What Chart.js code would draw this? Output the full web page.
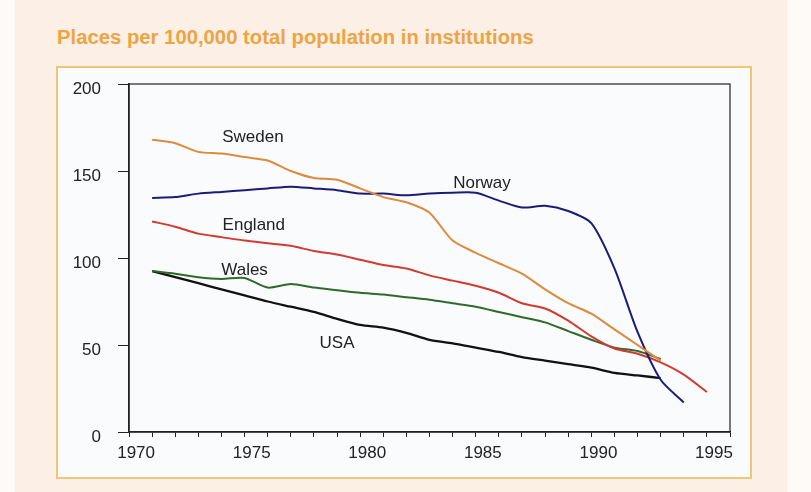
<!DOCTYPE html>
<html>
<head>
<meta charset="utf-8">
<script src="https://cdn.jsdelivr.net/npm/chart.js@4"></script>
<style>
  html, body { margin: 0; padding: 0; }
  body { width: 811px; height: 492px; position: relative; overflow: hidden; background: #fdfaf8; font-family: "Liberation Sans", Arial, sans-serif; }
  #peach { position: absolute; left: 15px; top: 0; width: 772px; height: 492px; background: #fcefe5; }
  #frame { position: absolute; left: 56px; top: 66px; width: 692px; height: 409px; border: 2px solid #f1c476; background: #fafbfc; }
  #title { position: absolute; left: 57px; top: 26px; font-size: 20.3px; font-weight: bold; color: #eba544; white-space: nowrap; }
  #wrap { position: absolute; left: 0; top: 0; width: 811px; height: 492px; }
  .lbl { position: absolute; font-size: 17px; color: #222; white-space: nowrap; transform: translate(-50%, -50%); }
</style>
</head>
<body>
<div id="peach"></div>
<div id="frame"></div>
<div id="title">Places per 100,000 total population in institutions</div>
<div id="wrap"><canvas id="c" width="811" height="492"></canvas></div>
<script>
const years = [1970,1971,1972,1973,1974,1975,1976,1977,1978,1979,1980,1981,1982,1983,1984,1985,1986,1987,1988,1989,1990,1991,1992,1993,1994];
const sweden  = [168,166,161,160,158,156,150,146,145,140,135,132,126,110,103,97,91,82,74,68,59,50,41];
const norway  = [134.5,135,137,138,139,140,141,140,139,137,137,136,137,137.5,137.5,133,129,130,127,120,94,57.5,30,17];
const england = [121,118,114,112,110,108.5,107,104,102,99,96,94,90,87,84,80,74,71,64,55,48,45,40,33,23];
const wales   = [92.5,91,89,88,88.5,83,85,83,81.5,80,79,77.5,76,74,72,69,66,63,58,53,48.5,46.5,42];
const usa     = [92.5,89,85.5,82,78.5,75,72,69,65,61.5,60,57,53,51,48.5,46,43,41,39,37,34,32.5,31];
const yTicks = [0,50,100,150,200];
const xLabels = [1970,1975,1980,1985,1990,1995];
const seriesLabels = [
  {text:'Sweden', x:1974.36, y:169.5},
  {text:'Norway', x:1984.27, y:143},
  {text:'England', x:1974.4, y:119},
  {text:'Wales', x:1974.0, y:93},
  {text:'USA', x:1978.0, y:51}
];

function pts(arr){ return arr.map((v,i)=>({x:years[i], y:v})); }
function ds(label, data, color, w){
  return {label, data: pts(data), borderColor: color, borderWidth: w || 2, pointRadius: 0, tension: 0.25, fill: false};
}

const boxPlugin = {
  id: 'box',
  afterDraw(chart){
    const a = chart.chartArea, ctx = chart.ctx;
    ctx.save();
    ctx.strokeStyle = '#222';
    ctx.lineWidth = 1.2;
    ctx.strokeRect(a.left, a.top, a.right - a.left, a.bottom - a.top);
    ctx.restore();
  }
};

const tickFont = {family: '"Liberation Sans", Arial, sans-serif', size: 17};

const chart = new Chart(document.getElementById('c'), {
  type: 'line',
  data: {
    datasets: [
      ds('Sweden', sweden, '#dc8a3e'),
      ds('Norway', norway, '#1c1c78'),
      ds('England', england, '#d23a30'),
      ds('Wales', wales, '#2f6a2c'),
      ds('USA', usa, '#111111', 2.3)
    ]
  },
  options: {
    responsive: false,
    animation: false,
    layout: {padding: {left: 0, top: 84, right: 81, bottom: 0}},
    plugins: {legend: {display: false}, tooltip: {enabled: false}, title: {display: false}},
    scales: {
      x: {
        type: 'linear', min: 1969, max: 1995,
        afterFit(s){ s.height = 60; },
        afterBuildTicks(s){ s.ticks = []; for (let y = 1969; y <= 1995; y++) s.ticks.push({value: y}); },
        ticks: {
          autoSkip: false, maxRotation: 0,
          callback: (v) => xLabels.includes(v) ? String(v) : '',
          labelOffset: -16, padding: 6, color: '#222', font: tickFont
        },
        grid: {drawOnChartArea: false, drawTicks: true, tickLength: 5, color: '#222', lineWidth: 1},
        border: {display: true, color: '#222', width: 1.5}
      },
      y: {
        min: 0, max: 200,
        afterFit(s){ s.width = 129; },
        afterBuildTicks(s){ s.ticks = yTicks.map(v => ({value: v})); },
        ticks: {labelOffset: 5, padding: 17, color: '#222', font: tickFont},
        grid: {drawOnChartArea: false, drawTicks: true, tickLength: 11, color: '#222', lineWidth: 1},
        border: {display: true, color: '#222', width: 1.5}
      }
    }
  },
  plugins: [boxPlugin]
});

const wrap = document.getElementById('wrap');
seriesLabels.forEach(l => {
  const d = document.createElement('div');
  d.className = 'lbl';
  d.textContent = l.text;
  d.style.left = chart.scales.x.getPixelForValue(l.x) + 'px';
  d.style.top = chart.scales.y.getPixelForValue(l.y) + 'px';
  wrap.appendChild(d);
});
</script>
</body>
</html>
